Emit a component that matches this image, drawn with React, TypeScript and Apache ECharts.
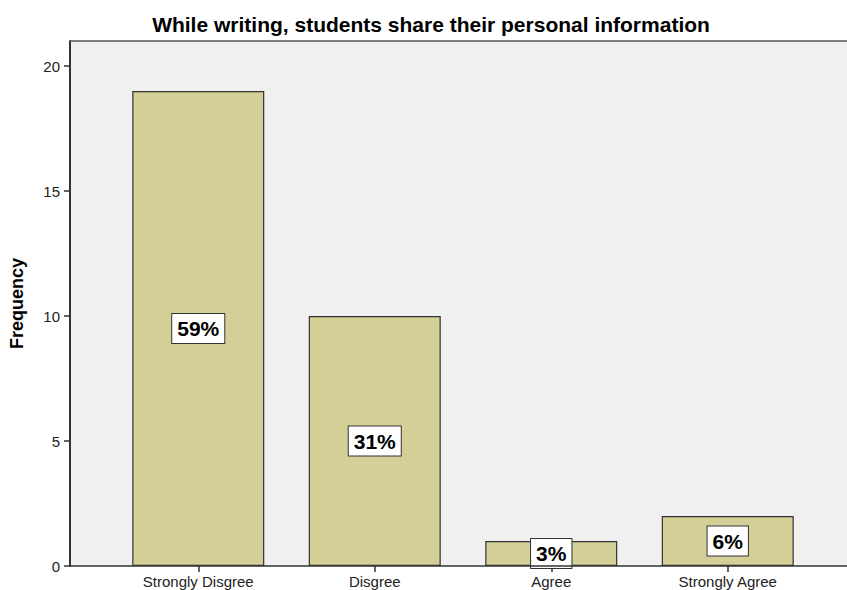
import React, { useEffect, useRef } from "react";
import * as echarts from "echarts";

const categories = ["Strongly Disgree", "Disgree", "Agree", "Strongly Agree"];
const frequencies = [19, 10, 1, 2];
const percentLabels = ["59%", "31%", "3%", "6%"];
const yTicks = [0, 5, 10, 15, 20];

const FONT = "'Liberation Sans', Arial, sans-serif";

export default function App() {
  const ref = useRef<HTMLDivElement>(null);
  useEffect(() => {
    document.body.style.margin = "0";
    if (!ref.current) return;
    const chart = echarts.init(ref.current, undefined, { renderer: "svg" });
    chart.setOption({
      animation: false,
      backgroundColor: "#ffffff",
      title: {
        text: "While writing, students share their personal information",
        left: 426,
        textAlign: "center",
        top: 9,
        textStyle: { fontFamily: FONT, fontSize: 21, fontWeight: "bold", color: "#000" },
      },
      graphic: [
        {
          type: "rect",
          z: -10,
          shape: { x: 70, y: 41, width: 800, height: 525 },
          style: { fill: "#f0f0f0" },
        },
        {
          type: "line",
          z: 10,
          shape: { x1: 70, y1: 41, x2: 847, y2: 41 },
          style: { stroke: "#555", lineWidth: 1.5 },
        },
        {
          type: "line",
          z: 10,
          shape: { x1: 70, y1: 566, x2: 847, y2: 566 },
          style: { stroke: "#333", lineWidth: 1.5 },
        },
      ],
      grid: { left: 110, right: 31, top: 41, bottom: 24, containLabel: false },
      xAxis: {
        type: "category",
        data: categories,
        axisLine: { show: false },
        axisTick: { show: true, alignWithLabel: true, length: 6, lineStyle: { color: "#333", width: 1.5 } },
        axisLabel: { fontFamily: FONT, fontSize: 15, color: "#222", margin: 8 },
      },
      yAxis: {
        type: "value",
        min: 0,
        max: 21,
        interval: 5,
        offset: 40,
        name: "Frequency",
        nameLocation: "middle",
        nameGap: 44,
        nameRotate: 90,
        nameTextStyle: { fontFamily: FONT, fontSize: 18, fontWeight: "bold", color: "#000" },
        axisLine: { show: true, lineStyle: { color: "#333", width: 2 } },
        axisTick: { show: true, length: 6, customValues: yTicks, lineStyle: { color: "#333", width: 1.5 } },
        axisLabel: {
          fontFamily: FONT,
          fontSize: 15,
          color: "#222",
          margin: 10,
          customValues: yTicks,
        },
        splitLine: { show: false },
      },
      series: [
        {
          type: "bar",
          data: frequencies,
          barWidth: 132,
          itemStyle: { color: "#d3cf96", borderColor: "#333", borderWidth: 1.2 },
          label: {
            show: true,
            position: "inside",
            formatter: (p: any) => percentLabels[p.dataIndex],
            fontFamily: FONT,
            fontSize: 21,
            fontWeight: "bold",
            color: "#000",
            backgroundColor: "#ffffff",
            borderColor: "#333",
            borderWidth: 1,
            padding: [5, 5, 3, 5],
          },
        },
      ],
    });
    return () => chart.dispose();
  }, []);
  return <div ref={ref} style={{ width: 847, height: 590 }} />;
}
